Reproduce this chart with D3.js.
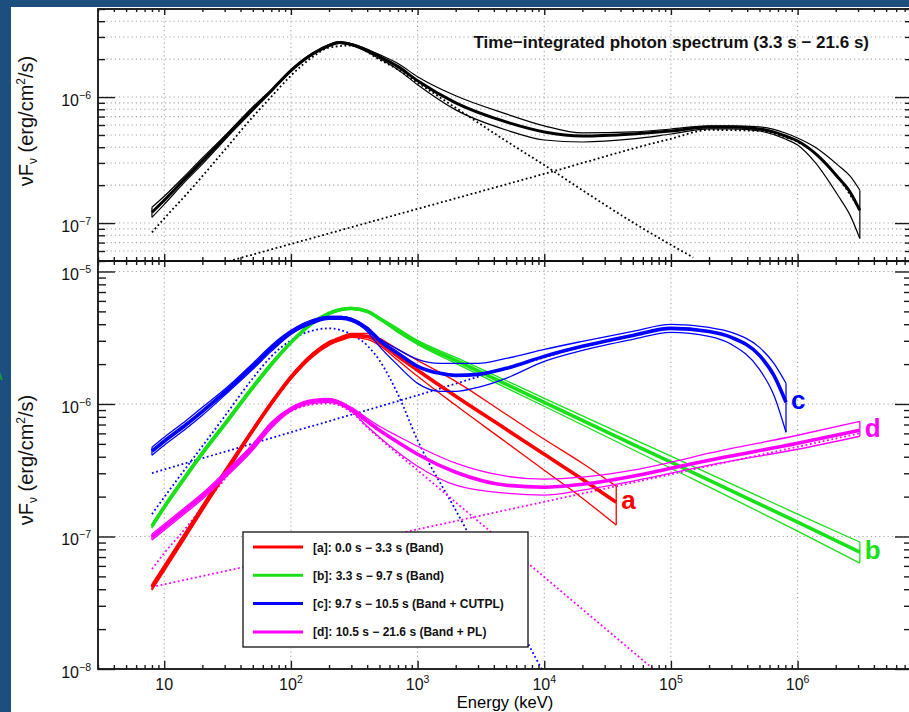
<!DOCTYPE html>
<html>
<head>
<meta charset="utf-8">
<title>Photon spectra</title>
<script src="https://cdnjs.cloudflare.com/ajax/libs/d3/7.8.5/d3.min.js"></script>
<style>
body { margin: 0; background: #fff; }
svg { display: block; font-family: 'Liberation Sans', Arial, Helvetica, sans-serif; }
.grid line { stroke: #a6a6a6; stroke-width: 1.1; stroke-dasharray: 1.2,3; }
.ticks .tick line { stroke: #1a1a1a; stroke-width: 1.4; }
.ticks text { display: none; }
</style>
</head>
<body>
<svg width="909" height="712"></svg>
<script>
// values (energy in keV, nuFnu in erg/cm2/s)
// hi / lo = relative width of the error butterfly above / below the best fit

// top panel: time-integrated spectrum (Band + CUTPL)
var totE  = [8, 10, 15, 20, 30, 50, 70, 100, 150, 200, 241, 300, 500, 700, 1000, 2000, 5000, 1e4, 2e4, 5e4, 1e5, 2e5, 3e5, 5e5, 8e5, 1e6, 1.37e6, 2.08e6, 2.6e6, 3.1e6];
var totF  = [1.217e-7, 1.517e-7, 2.314e-7, 3.105e-7, 4.736e-7, 8.06e-7, 1.123e-6, 1.621e-6, 2.214e-6, 2.566e-6, 2.71e-6, 2.613e-6, 2.096e-6, 1.744e-6, 1.349e-6, 9.0e-7, 6.35e-7, 5.29e-7, 4.91e-7, 5.10e-7, 5.38e-7, 5.80e-7, 5.80e-7, 5.59e-7, 4.91e-7, 4.48e-7, 3.59e-7, 2.314e-7, 1.757e-7, 1.262e-7];
var totHi = [.096, .076, .057, .057, .037, .037, .018, .018, .018, .018, .018, .018, .037, .057, .076, .137, .158, .117, .057, .037, .037, .018, .018, .037, .057, .057, .117, .247, .342, .443];
var totLo = [.088, .071, .054, .054, .036, .036, .018, .018, .018, .018, .018, .018, .036, .054, .071, .121, .137, .137, .104, .088, .054, .036, .036, .036, .054, .071, .152, .282, .345, .402];
var totBandE = [8, 10, 15, 20, 30, 50, 70, 100, 150, 200, 300, 500, 700, 1000, 2000, 5000, 1e4, 2e4, 5e4, 1.5e5];
var totBandF = [8.43e-8, 1.090e-7, 1.694e-7, 2.357e-7, 3.799e-7, 6.966e-7, 1.006e-6, 1.478e-6, 2.096e-6, 2.472e-6, 2.566e-6, 1.983e-6, 1.651e-6, 1.300e-6, 8.22e-7, 4.48e-7, 2.884e-7, 1.823e-7, 1.013e-7, 5.33e-8];
var totCutE = [30, 100, 1000, 1e4, 1e5, 2e5, 5e5, 8e5, 1e6, 1.37e6, 2.08e6, 3.1e6];
var totCutF = [4.88e-8, 6.825e-8, 1.296e-7, 2.459e-7, 4.668e-7, 5.484e-7, 5.38e-7, 4.80e-7, 4.400e-7, 3.595e-7, 2.314e-7, 1.262e-7];

// bottom panel: time-resolved spectra
var aE  = [8, 10, 15, 20, 30, 50, 70, 100, 150, 200, 250, 300, 400, 500, 700, 1000, 2000, 5000, 1e4, 2e4, 3.7e4];
var aF  = [4.157e-8, 5.779e-8, 1.061e-7, 1.637e-7, 3.005e-7, 6.336e-7, 1.012e-6, 1.589e-6, 2.368e-6, 2.866e-6, 3.127e-6, 3.294e-6, 3.237e-6, 2.917e-6, 2.288e-6, 1.795e-6, 1.143e-6, 6.447e-7, 4.177e-7, 2.707e-7, 1.816e-7];
var aHi = [.053, .053, .053, .053, .053, .035, .035, .035, .035, .035, .035, .035, .053, .072, .129, .189, .297, .297, .297, .320, .320];
var aLo = [.051, .051, .051, .051, .051, .034, .034, .034, .034, .034, .034, .034, .051, .051, .067, .099, .145, .202, .243, .281, .329];

var bE  = [8, 10, 15, 20, 30, 50, 70, 100, 150, 200, 250, 300, 400, 500, 700, 1000, 2000, 1e4, 1e5, 1e6, 3.1e6];
var bF  = [1.198e-7, 1.666e-7, 2.902e-7, 4.250e-7, 7.031e-7, 1.336e-6, 1.991e-6, 2.917e-6, 4.127e-6, 4.826e-6, 5.171e-6, 5.262e-6, 4.995e-6, 4.422e-6, 3.592e-6, 2.917e-6, 2.134e-6, 1.030e-6, 3.636e-7, 1.284e-7, 7.626e-8];
var bHi = [.035, .035, .035, .035, .035, .035, .035, .018, .018, .018, .018, .018, .018, .018, .035, .035, .053, .072, .110, .149, .189];
var bLo = [.034, .034, .034, .034, .034, .034, .034, .017, .017, .017, .017, .017, .017, .017, .034, .034, .051, .067, .099, .145, .174];

var cE  = [8, 10, 15, 20, 30, 50, 70, 100, 150, 200, 250, 300, 400, 500, 700, 1000, 1500, 2000, 3000, 5000, 1e4, 2e4, 5e4, 1e5, 2e5, 3e5, 5e5, 6.5e5, 8.1e5];
var cF  = [4.401e-7, 5.235e-7, 7.031e-7, 8.810e-7, 1.225e-6, 1.924e-6, 2.629e-6, 3.470e-6, 4.199e-6, 4.500e-6, 4.500e-6, 4.346e-6, 3.720e-6, 3.020e-6, 2.410e-6, 1.924e-6, 1.703e-6, 1.645e-6, 1.674e-6, 1.858e-6, 2.288e-6, 2.722e-6, 3.294e-6, 3.720e-6, 3.530e-6, 3.181e-6, 2.328e-6, 1.645e-6, 1.030e-6];
var cHi = [.072, .072, .072, .072, .053, .053, .053, .035, .035, .018, .018, .018, .018, .035, .072, .129, .189, .232, .211, .189, .129, .091, .072, .072, .072, .091, .149, .232, .391];
var cLo = [.067, .067, .067, .067, .051, .051, .051, .034, .034, .034, .034, .034, .051, .099, .188, .256, .268, .243, .202, .159, .083, .067, .067, .067, .083, .114, .216, .293, .406];
var cBandE = [8, 10, 15, 20, 30, 50, 70, 100, 150, 200, 300, 400, 500, 700, 1000, 2000, 5000, 1e4];
var cBandF = [1.475e-7, 1.981e-7, 3.334e-7, 4.799e-7, 8.080e-7, 1.562e-6, 2.288e-6, 3.020e-6, 3.592e-6, 3.720e-6, 3.351e-6, 2.769e-6, 2.134e-6, 1.183e-6, 5.326e-7, 1.580e-7, 3.147e-8, 9.19e-9];
var cCutE = [8, 100, 1000, 5000, 1e4, 2e4, 5e4, 1e5, 2e5, 3e5, 5e5, 6.5e5, 8.1e5];
var cCutF = [3.005e-7, 6.118e-7, 1.163e-6, 1.858e-6, 2.248e-6, 2.722e-6, 3.294e-6, 3.720e-6, 3.530e-6, 3.181e-6, 2.328e-6, 1.645e-6, 1.030e-6];

var dE  = [8, 10, 15, 20, 30, 50, 70, 100, 150, 200, 300, 400, 500, 700, 1000, 2000, 5000, 1e4, 2e4, 5e4, 1e5, 2e5, 1e6, 3.1e6];
var dF  = [9.897e-8, 1.177e-7, 1.609e-7, 2.016e-7, 2.902e-7, 4.717e-7, 6.911e-7, 9.123e-7, 1.048e-6, 1.066e-6, 9.123e-7, 7.406e-7, 6.336e-7, 5.145e-7, 4.177e-7, 3.057e-7, 2.439e-7, 2.356e-7, 2.482e-7, 2.852e-7, 3.277e-7, 3.764e-7, 5.056e-7, 6.336e-7];
var dHi = [.053, .053, .053, .053, .053, .053, .053, .035, .035, .035, .035, .053, .072, .110, .149, .169, .169, .149, .129, .110, .110, .129, .149, .169];
var dLo = [.051, .051, .051, .051, .051, .051, .051, .034, .034, .034, .034, .083, .114, .159, .188, .202, .130, .130, .099, .083, .083, .083, .099, .099];
var dBandE = [8, 10, 15, 20, 30, 50, 70, 100, 150, 200, 300, 400, 500, 1000, 1e4, 1e5];
var dBandF = [5.679e-8, 7.496e-8, 1.177e-7, 1.666e-7, 2.707e-7, 4.969e-7, 7.031e-7, 8.810e-7, 9.947e-7, 1.012e-6, 8.659e-7, 6.675e-7, 5.514e-7, 3.164e-7, 4.943e-8, 7.720e-9];
var dPlE = [8, 3.1e6];
var dPlF = [4.157e-8, 6.013e-7];

var seriesTags   = ["a", "b", "c", "d"];
var seriesColors = ["#ff0000", "#19e019", "#0000ff", "#ff00ff"];
var seriesNames  = ["[a]: 0.0 s \u2212 3.3 s (Band)", "[b]: 3.3 s \u2212 9.7 s (Band)",
                    "[c]: 9.7 s \u2212 10.5 s (Band + CUTPL)", "[d]: 10.5 s \u2212 21.6 s (Band + PL)"];
var titleText = "Time\u2212integrated photon spectrum (3.3 s \u2212 21.6 s)";

var xMajor = [10, 100, 1e3, 1e4, 1e5, 1e6];
var xMajorExp = ["", "2", "3", "4", "5", "6"];
var yTopMajor = [1e-7, 1e-6];
var yTopExp = ["\u22127", "\u22126"];
var yBotMajor = [1e-8, 1e-7, 1e-6, 1e-5];
var yBotExp = ["\u22128", "\u22127", "\u22126", "\u22125"];

var svg = d3.select("svg");

// slide decoration around the screenshot
svg.append("rect").attr("x", 0).attr("y", 0).attr("width", 909).attr("height", 7).attr("fill", "#1c4f7d");
svg.append("rect").attr("x", 0).attr("y", 0).attr("width", 11).attr("height", 712).attr("fill", "#1c4f7d");
svg.append("text").attr("x", -7).attr("y", 380).attr("fill", "#1a9a3a").attr("font-weight", "bold").attr("font-size", 14).text("A");

var L = 98, R = 912, T = 9, M = 261, B = 669;
var x = d3.scaleLog().domain([3, 8e6]).range([L, R]);
var yTop = d3.scaleLog().domain([5e-8, 5e-6]).range([M, T]);
var yBot = d3.scaleLog().domain([1e-8, 1.2e-5]).range([B, M]);

function isMajor(v) { var l = Math.log10(v); return Math.abs(l - Math.round(l)) < 1e-6; }
var xMinor = x.ticks().filter(function(v) { return !isMajor(v); });
var yTopMinor = yTop.ticks().filter(function(v) { return !isMajor(v); });
var yBotMinor = yBot.ticks().filter(function(v) { return !isMajor(v); });

var defs = svg.append("defs");
defs.append("clipPath").attr("id", "clipTop").append("rect").attr("x", L).attr("y", T).attr("width", R - L).attr("height", M - T);
defs.append("clipPath").attr("id", "clipBot").append("rect").attr("x", L).attr("y", M).attr("width", R - L).attr("height", B - M);

// grid
var grid = svg.append("g").attr("class", "grid");
grid.selectAll("line.vt").data(xMajor).join("line").attr("class", "vt")
  .attr("x1", x).attr("x2", x).attr("y1", T).attr("y2", M);
grid.selectAll("line.vb").data(xMajor).join("line").attr("class", "vb")
  .attr("x1", x).attr("x2", x).attr("y1", M).attr("y2", B);
grid.selectAll("line.ht").data(yTop.ticks()).join("line").attr("class", "ht")
  .attr("x1", L).attr("x2", R).attr("y1", yTop).attr("y2", yTop);
grid.selectAll("line.hb").data(yBotMajor.slice(1)).join("line").attr("class", "hb")
  .attr("x1", L).attr("x2", R).attr("y1", yBot).attr("y2", yBot);

var pts = function(E, F) { return E.map(function(e, i) { return [e, F[i]]; }); };

function drawDotted(g, yS, E, F, color) {
  var line = d3.line().x(function(d) { return x(d[0]); }).y(function(d) { return yS(d[1]); }).curve(d3.curveMonotoneX);
  g.append("path").attr("d", line(pts(E, F))).attr("fill", "none").attr("stroke", color)
    .attr("stroke-width", 1.8).attr("stroke-dasharray", "1.8,2.6");
}

function drawBand(g, yS, E, F, hi, lo, color, wMain, wEnv) {
  var line = d3.line().x(function(d) { return x(d[0]); }).y(function(d) { return yS(d[1]); }).curve(d3.curveMonotoneX);
  var up = E.map(function(e, i) { return [e, F[i] * (1 + hi[i])]; });
  var dn = E.map(function(e, i) { return [e, F[i] * (1 - lo[i])]; });
  var n = E.length - 1;
  var seg = d3.line().x(function(d) { return x(d[0]); }).y(function(d) { return yS(d[1]); });
  [line(up), line(dn), seg([up[0], dn[0]]), seg([up[n], dn[n]])].forEach(function(p) {
    g.append("path").attr("d", p).attr("fill", "none").attr("stroke", color).attr("stroke-width", wEnv);
  });
  g.append("path").attr("d", line(pts(E, F))).attr("fill", "none").attr("stroke", color)
    .attr("stroke-width", wMain).attr("stroke-linejoin", "round");
}

// top panel
var gTop = svg.append("g").attr("clip-path", "url(#clipTop)");
drawDotted(gTop, yTop, totBandE, totBandF, "#000");
drawDotted(gTop, yTop, totCutE, totCutF, "#000");
drawBand(gTop, yTop, totE, totF, totHi, totLo, "#000", 3, 1.2);

// bottom panel
var gBot = svg.append("g").attr("clip-path", "url(#clipBot)");
drawDotted(gBot, yBot, cBandE, cBandF, seriesColors[2]);
drawDotted(gBot, yBot, cCutE, cCutF, seriesColors[2]);
drawDotted(gBot, yBot, dBandE, dBandF, seriesColors[3]);
drawDotted(gBot, yBot, dPlE, dPlF, seriesColors[3]);

var bottomSeries = [
  { E: aE, F: aF, hi: aHi, lo: aLo },
  { E: bE, F: bF, hi: bHi, lo: bLo },
  { E: cE, F: cF, hi: cHi, lo: cLo },
  { E: dE, F: dF, hi: dHi, lo: dLo }
];
bottomSeries.forEach(function(s, i) {
  drawBand(gBot, yBot, s.E, s.F, s.hi, s.lo, seriesColors[i], 3.6, 1.3);
});
bottomSeries.forEach(function(s, i) {
  var n = s.E.length - 1;
  svg.append("text").attr("x", x(s.E[n]) + 5).attr("y", yBot(s.F[n]) + 7)
    .attr("fill", seriesColors[i]).attr("font-weight", "bold").attr("font-size", 26).text(seriesTags[i]);
});

// frame
svg.append("rect").attr("x", L).attr("y", T).attr("width", R - L).attr("height", B - T)
  .attr("fill", "none").attr("stroke", "#111").attr("stroke-width", 1.8);
svg.append("line").attr("x1", L).attr("x2", R).attr("y1", M).attr("y2", M).attr("stroke", "#111").attr("stroke-width", 1.8);

// tick marks
function ticks(axis, vals, size, tx, ty) {
  var g = svg.append("g").attr("class", "ticks").attr("transform", "translate(" + tx + "," + ty + ")")
    .call(axis.tickValues(vals).tickSize(size).tickFormat(""));
  g.select(".domain").remove();
}
ticks(d3.axisBottom(x), xMajor, 6, 0, T);
ticks(d3.axisBottom(x), xMinor, 3, 0, T);
ticks(d3.axisTop(x), xMajor, 7, 0, M);
ticks(d3.axisTop(x), xMinor, 4, 0, M);
ticks(d3.axisBottom(x), xMajor, 6, 0, M);
ticks(d3.axisBottom(x), xMinor, 4, 0, M);
ticks(d3.axisTop(x), xMajor, 8, 0, B);
ticks(d3.axisTop(x), xMinor, 4, 0, B);
ticks(d3.axisRight(yTop), yTopMajor, 17, L, 0);
ticks(d3.axisRight(yTop), yTopMinor, 7, L, 0);
ticks(d3.axisLeft(yTop), yTopMajor, 17, R, 0);
ticks(d3.axisLeft(yTop), yTopMinor, 7, R, 0);
ticks(d3.axisRight(yBot), yBotMajor, 17, L, 0);
ticks(d3.axisRight(yBot), yBotMinor, 8, L, 0);
ticks(d3.axisLeft(yBot), yBotMajor, 17, R, 0);
ticks(d3.axisLeft(yBot), yBotMinor, 8, R, 0);

// tick labels
function powLabel(tx, ty, exp, anchor) {
  var t = svg.append("text").attr("x", tx).attr("y", ty).attr("text-anchor", anchor)
    .attr("font-size", 16).attr("fill", "#111");
  t.append("tspan").text("10");
  if (exp) t.append("tspan").attr("dy", -7).attr("font-size", 10.5).text(exp);
}
xMajor.forEach(function(v, i) { powLabel(x(v), 689.5, xMajorExp[i], "middle"); });
yTopMajor.forEach(function(v, i) { powLabel(91, yTop(v) + 9, yTopExp[i], "end"); });
yBotMajor.forEach(function(v, i) { powLabel(91, yBot(v) + 9, yBotExp[i], "end"); });

// axis titles
svg.append("text").attr("x", 505).attr("y", 708).attr("text-anchor", "middle").attr("font-size", 16.5).text("Energy (keV)");
function yTitle(cy) {
  var t = svg.append("text").attr("transform", "translate(33," + cy + ") rotate(-90)")
    .attr("text-anchor", "middle").attr("font-size", 20).attr("fill", "#111");
  t.append("tspan").text("\u03bdF");
  t.append("tspan").attr("font-size", 12).attr("dy", 4).text("\u03bd");
  t.append("tspan").attr("dy", -4).text("  (erg/cm");
  t.append("tspan").attr("font-size", 12).attr("dy", -8).text("2");
  t.append("tspan").attr("dy", 8).text("/s)");
}
yTitle(121);
yTitle(460);

svg.append("text").attr("x", 869).attr("y", 48).attr("text-anchor", "end")
  .attr("font-size", 17).attr("font-weight", "bold").attr("fill", "#111").text(titleText);

// legend
var leg = svg.append("g");
leg.append("rect").attr("x", 243).attr("y", 532).attr("width", 285).attr("height", 115)
  .attr("fill", "#fff").attr("stroke", "#111").attr("stroke-width", 1.3);
seriesNames.forEach(function(name, i) {
  var cy = 547 + i * 28.3;
  leg.append("line").attr("x1", 253).attr("x2", 303).attr("y1", cy).attr("y2", cy)
    .attr("stroke", seriesColors[i]).attr("stroke-width", 3);
  leg.append("text").attr("x", 313).attr("y", cy + 4.5).attr("font-size", 12)
    .attr("font-weight", "bold").attr("fill", "#111").text(name);
});
</script>
</body>
</html>
